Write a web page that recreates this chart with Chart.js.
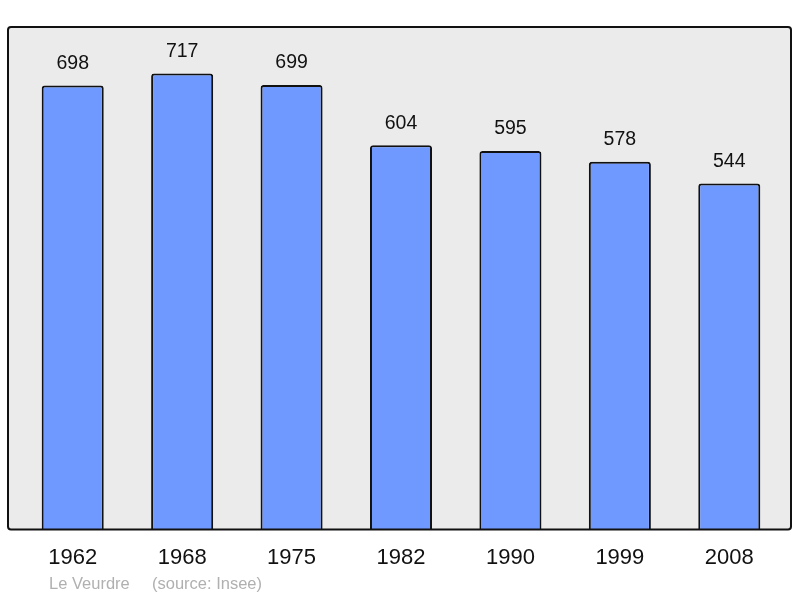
<!DOCTYPE html>
<html>
<head>
<meta charset="utf-8">
<script src="https://cdn.jsdelivr.net/npm/chart.js@4"></script>
<style>
  html, body { margin: 0; padding: 0; background: #fff; }
  #wrap { width: 800px; height: 598px; }
</style>
</head>
<body>
<div id="wrap"><canvas id="pop"></canvas></div>
<script>
var years = ["1962", "1968", "1975", "1982", "1990", "1999", "2008"];
var population = [698, 717, 699, 604, 595, 578, 544];
var place = "Le Veurdre";
var source = "(source: Insee)";

// grey frame behind the bars, a bit wider than the chart area
var framePlugin = {
    id: "frame",
    beforeDraw: function (chart) {
        var ctx = chart.ctx;
        var a = chart.chartArea;
        ctx.save();
        ctx.fillStyle = "#ebebeb";
        ctx.beginPath();
        ctx.roundRect(a.left - 10, a.top, a.right - a.left + 17, a.bottom - a.top, 3);
        ctx.fill();
        ctx.restore();
    },
    afterDraw: function (chart) {
        var ctx = chart.ctx;
        var meta = chart.getDatasetMeta(0);
        ctx.save();
        ctx.fillStyle = "#111";
        ctx.font = "19.5px 'Liberation Sans', Arial, sans-serif";
        ctx.textAlign = "center";
        ctx.textBaseline = "middle";
        meta.data.forEach(function (bar, i) {
            ctx.fillText(population[i], bar.x, bar.y - 22);
        });
        ctx.fillStyle = "#b0b0b0";
        ctx.font = "16.5px 'Liberation Sans', Arial, sans-serif";
        ctx.textAlign = "left";
        ctx.fillText(place, 49, 584);
        ctx.fillText(source, 152, 584);
        // frame border on top so bars sit inside it
        var a = chart.chartArea;
        ctx.strokeStyle = "#111";
        ctx.lineWidth = 2;
        ctx.beginPath();
        ctx.roundRect(a.left - 10, a.top, a.right - a.left + 17, a.bottom - a.top, 3);
        ctx.stroke();
        ctx.restore();
    }
};

new Chart(document.getElementById("pop"), {
    type: "bar",
    data: {
        labels: years,
        datasets: [{
            data: population,
            backgroundColor: "#7099ff",
            borderColor: "#111",
            borderWidth: 2,
            borderRadius: 3,
            borderSkipped: "bottom",
            barPercentage: 0.567,
            categoryPercentage: 1
        }]
    },
    options: {
        responsive: true,
        maintainAspectRatio: false,
        animation: false,
        layout: { padding: { left: 18, right: 16, top: 27, bottom: 12 } },
        plugins: {
            legend: { display: false },
            tooltip: { enabled: false }
        },
        scales: {
            x: {
                grid: { display: false, drawTicks: false },
                border: { display: false },
                ticks: {
                    color: "#111",
                    padding: 15,
                    font: { family: "'Liberation Sans', Arial, sans-serif", size: 22 }
                }
            },
            y: {
                display: false,
                min: 0,
                max: 790
            }
        }
    },
    plugins: [framePlugin]
});
</script>
</body>
</html>
